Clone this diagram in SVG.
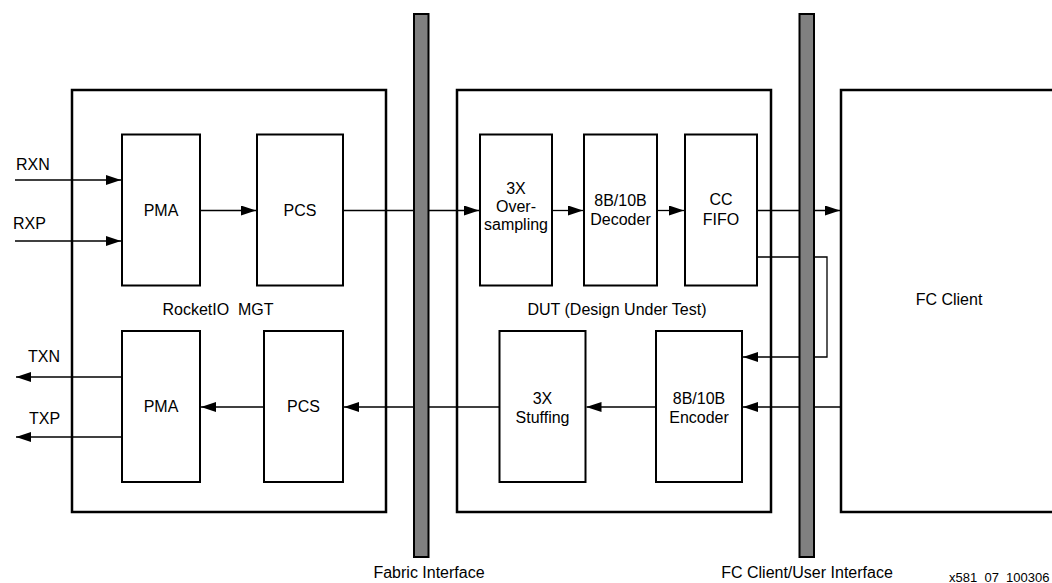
<svg xmlns="http://www.w3.org/2000/svg" width="1052" height="583" viewBox="0 0 1052 583">
<style>
text{font-family:"Liberation Sans",Arial,Helvetica,sans-serif;fill:#000}
.lbl{font-size:16px;text-anchor:middle}
.sm{font-size:16px}
.outer{fill:#fff;stroke:#000;stroke-width:2.5}
.blk{fill:#fff;stroke:#000;stroke-width:2}
.bar{fill:#808080;stroke:#000;stroke-width:2}
.wire{fill:none;stroke:#000;stroke-width:1.3}
</style>
<defs>
<marker id="ah" markerUnits="userSpaceOnUse" markerWidth="15" markerHeight="10" refX="15" refY="5" orient="auto">
<path d="M0,0 L15,5 L0,10 z" fill="#000"/>
</marker>
</defs>
<rect width="1052" height="583" fill="#fff"/>

<g id="rocketio">
<rect class="outer" x="72" y="90" width="314" height="422"/>
<text class="lbl" x="218" y="315">RocketIO&#160; MGT</text>
</g>
<g id="dut">
<rect class="outer" x="457" y="90" width="314" height="422"/>
<text class="lbl" x="617" y="315">DUT (Design Under Test)</text>
</g>
<g id="fc-client">
<rect class="outer" x="841" y="90" width="240" height="422"/>
<text class="lbl" x="949" y="305">FC Client</text>
</g>

<g id="pma-rx"><rect class="blk" x="122" y="134.5" width="78" height="151"/><text class="lbl" x="161" y="216">PMA</text></g>
<g id="pcs-rx"><rect class="blk" x="257" y="134.5" width="86" height="151"/><text class="lbl" x="300" y="216">PCS</text></g>
<g id="pma-tx"><rect class="blk" x="122" y="331" width="78" height="151"/><text class="lbl" x="161" y="412">PMA</text></g>
<g id="pcs-tx"><rect class="blk" x="264" y="331" width="79" height="151"/><text class="lbl" x="303.5" y="412">PCS</text></g>

<g id="oversampling"><rect class="blk" x="480" y="134.5" width="72" height="151"/>
<text class="lbl" x="516" y="194">3X</text><text class="lbl" x="516" y="212">Over-</text><text class="lbl" x="516" y="230">sampling</text></g>
<g id="decoder"><rect class="blk" x="584" y="134.5" width="73" height="151"/>
<text class="lbl" x="620.5" y="206">8B/10B</text><text class="lbl" x="620.5" y="225">Decoder</text></g>
<g id="ccfifo"><rect class="blk" x="685" y="134.5" width="72" height="151"/>
<text class="lbl" x="721" y="205">CC</text><text class="lbl" x="721" y="225">FIFO</text></g>
<g id="stuffing"><rect class="blk" x="499.5" y="331" width="86" height="151"/>
<text class="lbl" x="542.5" y="404">3X</text><text class="lbl" x="542.5" y="423">Stuffing</text></g>
<g id="encoder"><rect class="blk" x="656" y="331" width="86" height="151"/>
<text class="lbl" x="699" y="404">8B/10B</text><text class="lbl" x="699" y="423">Encoder</text></g>

<g id="connectors">
<line class="wire" x1="15" y1="180" x2="121" y2="180" marker-end="url(#ah)"/>
<line class="wire" x1="15" y1="241" x2="121" y2="241" marker-end="url(#ah)"/>
<line class="wire" x1="200" y1="210.5" x2="256" y2="210.5" marker-end="url(#ah)"/>
<line class="wire" x1="343" y1="210.5" x2="479" y2="210.5" marker-end="url(#ah)"/>
<line class="wire" x1="552" y1="210.5" x2="583" y2="210.5" marker-end="url(#ah)"/>
<line class="wire" x1="657" y1="210.5" x2="684" y2="210.5" marker-end="url(#ah)"/>
<line class="wire" x1="757" y1="210.5" x2="840" y2="210.5" marker-end="url(#ah)"/>
<polyline class="wire" points="757,257 827,257 827,357 743,357" marker-end="url(#ah)"/>
<line class="wire" x1="841" y1="407" x2="743" y2="407" marker-end="url(#ah)"/>
<line class="wire" x1="656" y1="407" x2="586.5" y2="407" marker-end="url(#ah)"/>
<line class="wire" x1="499.5" y1="407" x2="344" y2="407" marker-end="url(#ah)"/>
<line class="wire" x1="264" y1="407" x2="201" y2="407" marker-end="url(#ah)"/>
<line class="wire" x1="122" y1="377" x2="16" y2="377" marker-end="url(#ah)"/>
<line class="wire" x1="122" y1="437" x2="16" y2="437" marker-end="url(#ah)"/>
</g>

<g id="fabric-interface">
<rect class="bar" x="414" y="14" width="14.5" height="543"/>
<text class="lbl" x="429" y="578">Fabric Interface</text>
</g>
<g id="fc-user-interface">
<rect class="bar" x="799.5" y="14" width="14.5" height="543"/>
<text class="lbl" x="807" y="578">FC Client/User Interface</text>
</g>

<g id="labels">
<text class="sm" x="16" y="170">RXN</text>
<text class="sm" x="13" y="229">RXP</text>
<text class="sm" x="28" y="362">TXN</text>
<text class="sm" x="29" y="424">TXP</text>
<text x="949" y="582" style="font-size:13px">x581_07_100306</text>
</g>
</svg>
